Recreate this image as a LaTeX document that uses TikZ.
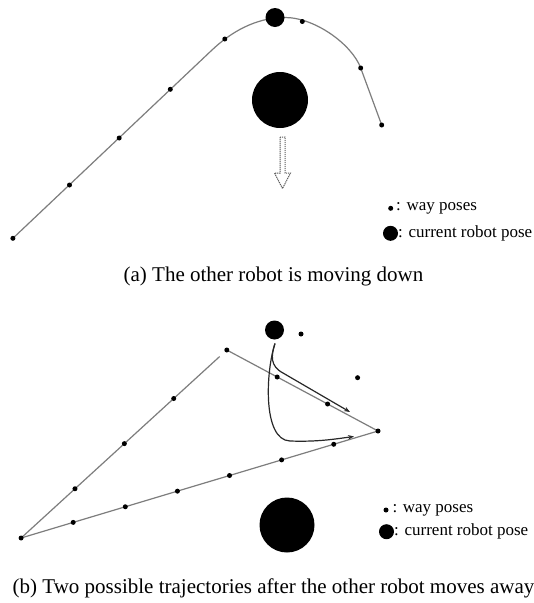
\documentclass[tikz,border=0pt]{standalone}
\usepackage{fontspec}
\setmainfont{Liberation Serif}
\usetikzlibrary{arrows.meta,calc}
\definecolor{linegray}{RGB}{125,125,125}
\definecolor{trajcol}{RGB}{40,40,40}
\definecolor{arrowgray}{RGB}{90,90,90}
\begin{document}
\begin{tikzpicture}[x=1pt,y=-1pt,
  wp/.style={circle,fill=black,inner sep=0pt,minimum size=5pt},
  pose/.style={circle,fill=black,inner sep=0pt,minimum size=19pt},
  obst/.style={circle,fill=black,inner sep=0pt,minimum size=56pt},
  legdot/.style={circle,fill=black,inner sep=0pt,minimum size=15pt},
  wayline/.style={draw=linegray,line width=1.2pt},
  traj/.style={draw=trajcol,line width=1.2pt,-{Stealth[length=6pt,width=4.5pt]}},
  legtext/.style={font=\fontsize{17}{19}\selectfont,inner sep=0pt,anchor=west},
  captext/.style={font=\fontsize{21}{24}\selectfont,inner sep=0pt}
]
\fill[white] (0,0) rectangle (534,603);
\useasboundingbox (0,0) rectangle (534,603);

% ---------- panel (a) ----------
\coordinate (a0) at (12.9,238.3);
\coordinate (a5) at (212,50);
\coordinate (a8) at (360.7,68);
\coordinate (a9) at (381.7,125);
\draw[wayline] (a0) -- (a5) .. controls (230.2,32.8) and (255,17.5) .. (285,17.5)
  .. controls (315,17.5) and (352,44.5) .. (a8) -- (a9);
\node[wp] (p1) at (a0) {};
\node[wp] (p2) at (69.5,185) {};
\node[wp] (p3) at (119.2,138) {};
\node[wp] (p4) at (170.3,89.3) {};
\node[wp] (p5) at (224.8,39) {};
\node[wp] (p6) at (302.3,21.5) {};
\node[wp] (p7) at (a8) {};
\node[wp] (p8) at (a9) {};
\node[pose] (ra) at (275,17.5) {};
\node[obst] (oa) at (280,100) {};
% hollow dotted arrow
\draw[arrowgray,line width=1pt,dash pattern=on 1.2pt off 0.8pt]
  (280,137) -- (285,137) -- (285,173) -- (290.5,173) -- (282.5,188.5)
  -- (274.5,173) -- (280,173) -- cycle;
% legend (a)
\node[wp] (lwa) at (390.7,208.3) {};
\node[legtext] (lwat) at (396,208.3) {: way poses};
\node[legdot] (lca) at (390.5,233.3) {};
\node[legtext] (lcat) at (398,233.3) {: current robot pose};
\node[captext] (capa) at (273.5,276) {(a) The other robot is moving down};

% ---------- panel (b) ----------
\coordinate (L) at (21.1,538);
\coordinate (V) at (226.8,350);
\coordinate (R) at (378,431);
\coordinate (E) at ($(L)!0.965!(V)$);
\draw[wayline] (L) -- (E);
\draw[wayline] (V) -- (R) -- (L);
\node[wp] (bL) at (L) {};
\node[wp] (bV) at (V) {};
\node[wp] (bR) at (R) {};
\foreach \t [count=\i] in {0.262,0.502,0.742}
  \node[wp] (bl\i) at ($(L)!\t!(V)$) {};
\foreach \t [count=\i] in {0.3333,0.6667}
  \node[wp] (bu\i) at ($(V)!\t!(R)$) {};
\foreach \t [count=\i] in {0.146,0.292,0.438,0.584,0.730,0.876}
  \node[wp] (bb\i) at ($(L)!\t!(R)$) {};
\node[wp] (bx1) at (301,334) {};
\node[wp] (bx2) at (357.6,377.7) {};
\node[pose] (rb) at (274.5,330) {};
\node[obst,minimum size=55pt] (ob) at (287,525) {};
% trajectories
\coordinate (S) at (275,343.5);
\coordinate (TA) at (350,412);
\coordinate (TB) at (354,436.5);
\draw[traj] (S) .. controls (271,356) and (270,366) .. (283,373) -- (TA);
\draw[traj] (S) .. controls (266,370) and (262,440) .. (290,441)
  .. controls (318,442) and (335,439) .. (TB);
% legend (b)
\node[wp] (lwb) at (386,510) {};
\node[legtext] (lwbt) at (392.3,510) {: way poses};
\node[legdot] (lcb) at (386.5,531.7) {};
\node[legtext] (lcbt) at (394,531.7) {: current robot pose};
\node[captext] (capb) at (273.5,588) {(b) Two possible trajectories after the other robot moves away};
\end{tikzpicture}
\end{document}
